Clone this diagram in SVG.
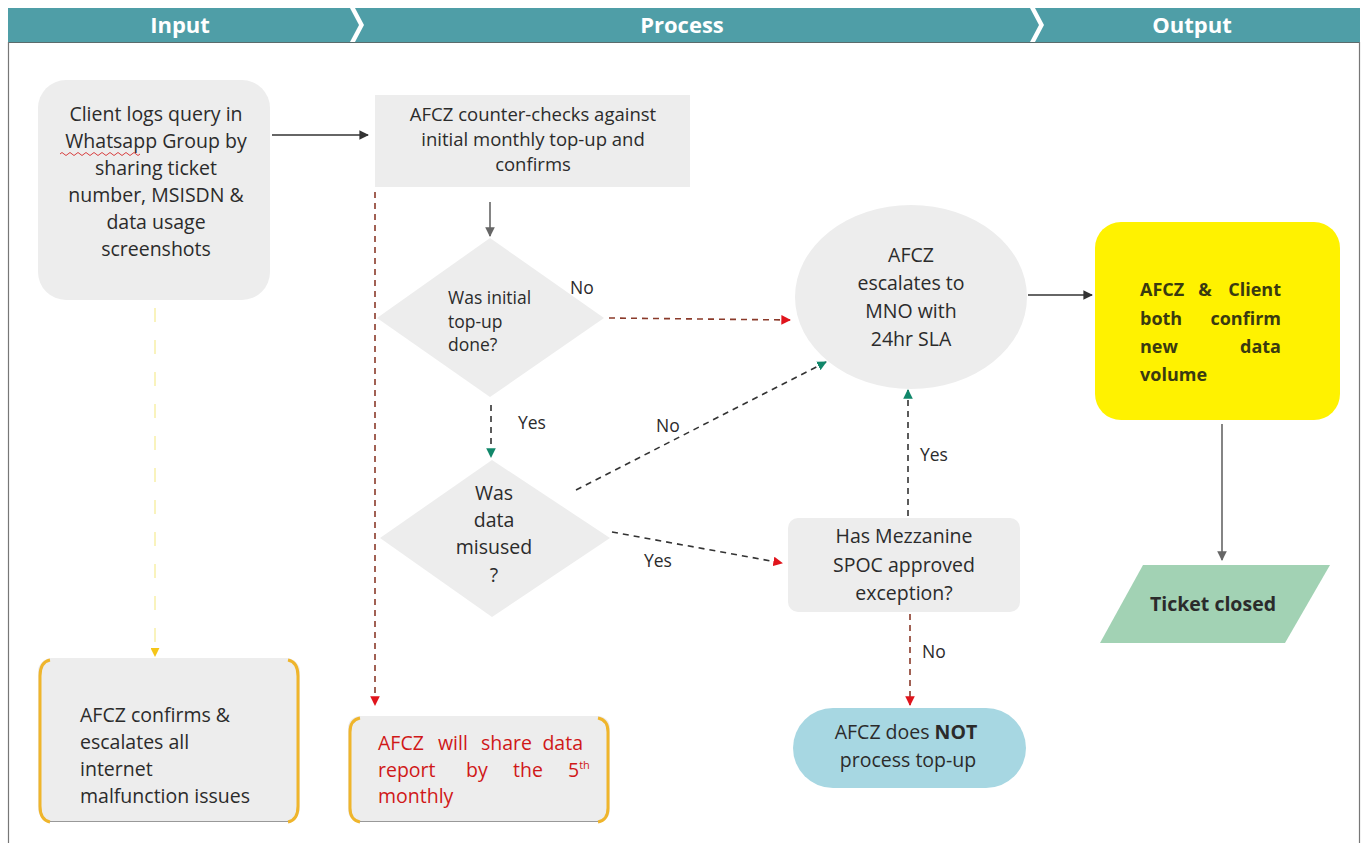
<svg xmlns="http://www.w3.org/2000/svg" width="1365" height="843" viewBox="0 0 1365 843">
<defs>
<style>
text{font-family:"Open Sans","Liberation Sans",sans-serif;font-size:19.5px;fill:#2b2b2b}
.hd{fill:#ffffff;font-weight:bold;font-size:22px;text-anchor:middle}
.c{text-anchor:middle}
.sm{font-size:17.5px}
.mid{font-size:18.5px}
.box{fill:#ededed}
.gold{fill:none;stroke:#efb52c;stroke-width:3}
.solid{fill:none;stroke:#333;stroke-width:1.6}
.gsolid{fill:none;stroke:#666;stroke-width:1.6}
.dash{fill:none;stroke:#333;stroke-width:1.6;stroke-dasharray:6 5}
.rdash{fill:none;stroke:#8a3a2a;stroke-width:1.6;stroke-dasharray:6 5}
.ydash{fill:none;stroke:#f7efa8;stroke-width:1.5;stroke-dasharray:14 18}
.bold{font-weight:bold}
.yt{font-weight:bold;fill:#3a3a10;font-size:18px}
.red{fill:#d01818}
</style>
<marker id="aBlack" viewBox="0 0 10 10" refX="9" refY="5" markerWidth="6" markerHeight="6" orient="auto"><path d="M0,0 L10,5 L0,10 z" fill="#333"/></marker>
<marker id="aGray" viewBox="0 0 10 10" refX="9" refY="5" markerWidth="6" markerHeight="6" orient="auto"><path d="M0,0 L10,5 L0,10 z" fill="#666"/></marker>
<marker id="aRed" viewBox="0 0 10 10" refX="9" refY="5" markerWidth="6" markerHeight="6" orient="auto"><path d="M0,0 L10,5 L0,10 z" fill="#e0141c"/></marker>
<marker id="aGreen" viewBox="0 0 10 10" refX="9" refY="5" markerWidth="6" markerHeight="6" orient="auto"><path d="M0,0 L10,5 L0,10 z" fill="#11876a"/></marker>
<marker id="aYellow" viewBox="0 0 10 10" refX="9" refY="5" markerWidth="6" markerHeight="6" orient="auto"><path d="M0,0 L10,5 L0,10 z" fill="#f5c518"/></marker>
</defs>
<rect width="1365" height="843" fill="#ffffff"/>

<g id="header">
<polygon points="8,8 350,8 359,25 350,42 8,42" fill="#4f9ea7"/>
<polygon points="355,8 1030,8 1039,25 1030,42 355,42 364,25" fill="#4f9ea7"/>
<polygon points="1035,8 1360,8 1360,42 1035,42 1044,25" fill="#4f9ea7"/>
<line x1="8" y1="42.5" x2="1360" y2="42.5" stroke="#5b6b6b" stroke-width="1"/>
<text class="hd" x="180" y="33">Input</text>
<text class="hd" x="682" y="33">Process</text>
<text class="hd" x="1192" y="33">Output</text>
</g>
<g id="frame">
<line x1="8.5" y1="42" x2="8.5" y2="843" stroke="#777" stroke-width="1.2"/>
<line x1="1359.5" y1="42" x2="1359.5" y2="843" stroke="#777" stroke-width="1.2"/>
</g>

<g id="connectors">
<line class="solid" x1="272" y1="135" x2="368" y2="135" marker-end="url(#aBlack)"/>
<line class="gsolid" x1="490" y1="202" x2="490" y2="236" marker-end="url(#aGray)"/>
<line class="rdash" x1="375" y1="192" x2="375" y2="705" marker-end="url(#aRed)"/>
<line class="ydash" x1="155" y1="308" x2="155" y2="656" marker-end="url(#aYellow)"/>
<line class="rdash" x1="609" y1="318" x2="790" y2="320" marker-end="url(#aRed)"/>
<line class="dash" x1="491" y1="405" x2="491" y2="457" marker-end="url(#aGreen)"/>
<line class="dash" x1="576" y1="490" x2="826" y2="362" marker-end="url(#aGreen)"/>
<line class="dash" x1="612" y1="532" x2="782" y2="563" marker-end="url(#aRed)"/>
<line class="dash" x1="908" y1="516" x2="908" y2="390" marker-end="url(#aGreen)"/>
<line class="rdash" x1="910" y1="614" x2="910" y2="705" marker-end="url(#aRed)"/>
<line class="solid" x1="1028" y1="295" x2="1092" y2="295" marker-end="url(#aBlack)"/>
<line class="gsolid" x1="1222" y1="424" x2="1222" y2="560" marker-end="url(#aGray)"/>
<text class="sm" x="570" y="294">No</text>
<text class="sm" x="518" y="429">Yes</text>
<text class="sm" x="656" y="432">No</text>
<text class="sm" x="644" y="567">Yes</text>
<text class="sm" x="920" y="461">Yes</text>
<text class="sm" x="922" y="658">No</text>
</g>

<g id="client-logs">
<rect class="box" x="38" y="80" width="232" height="220" rx="28"/>
<text class="c" x="156" y="121">Client logs query in</text>
<text class="c" x="156" y="148">Whatsapp Group by</text>
<text class="c" x="156" y="175">sharing ticket</text>
<text class="c" x="156" y="202">number, MSISDN &amp;</text>
<text class="c" x="156" y="229">data usage</text>
<text class="c" x="156" y="256">screenshots</text>
<path d="M60,154 q2,-3 4,0 t4,0 t4,0 t4,0 t4,0 t4,0 t4,0 t4,0 t4,0 t4,0 t4,0 t4,0 t4,0 t4,0 t4,0 t4,0 t4,0 t4,0 t4,0 t4,0" fill="none" stroke="#d84040" stroke-width="1"/>
</g>

<g id="counter-checks">
<rect class="box" x="375" y="95" width="315" height="92"/>
<text class="c mid" x="533" y="121">AFCZ counter-checks against</text>
<text class="c mid" x="533" y="146">initial monthly top-up and</text>
<text class="c mid" x="533" y="171">confirms</text>
</g>

<g id="decision-initial">
<polygon class="box" points="490,238 604,318 490,397 377,318"/>
<text class="sm" x="448" y="304">Was initial</text>
<text class="sm" x="448" y="328">top-up</text>
<text class="sm" x="448" y="351">done?</text>
</g>

<g id="decision-misused">
<polygon class="box" points="492,460 610,538 492,617 380,538"/>
<text class="c" x="494" y="500">Was</text>
<text class="c" x="494" y="527">data</text>
<text class="c" x="494" y="554">misused</text>
<text class="c" x="494" y="582">?</text>
</g>

<g id="escalates-mno">
<ellipse class="box" cx="911" cy="297" rx="116" ry="92"/>
<text class="c" x="911" y="262">AFCZ</text>
<text class="c" x="911" y="290">escalates to</text>
<text class="c" x="911" y="318">MNO with</text>
<text class="c" x="911" y="346">24hr SLA</text>
</g>

<g id="mezzanine">
<rect class="box" x="788" y="518" width="232" height="94" rx="10"/>
<text class="c" x="904" y="543">Has Mezzanine</text>
<text class="c" x="904" y="572">SPOC approved</text>
<text class="c" x="904" y="600">exception?</text>
</g>

<g id="not-process">
<rect x="793" y="708" width="233" height="80" rx="40" fill="#a7d7e2"/>
<text class="c" x="906" y="739">AFCZ does <tspan class="bold">NOT</tspan></text>
<text class="c" x="908" y="767">process top-up</text>
</g>

<g id="confirm-volume">
<rect x="1095" y="222" width="245" height="198" rx="26" fill="#fff200"/>
<text class="yt" x="1140" y="296">AFCZ</text>
<text class="yt c" x="1205" y="296">&amp;</text>
<text class="yt" x="1281" y="296" text-anchor="end">Client</text>
<text class="yt" x="1140" y="325">both</text>
<text class="yt" x="1281" y="325" text-anchor="end">confirm</text>
<text class="yt" x="1140" y="353">new</text>
<text class="yt" x="1281" y="353" text-anchor="end">data</text>
<text class="yt" x="1140" y="381">volume</text>
</g>

<g id="ticket-closed">
<polygon points="1143,565 1330,565 1285,643 1100,643" fill="#a2d2b4"/>
<text class="c bold" x="1213" y="611">Ticket closed</text>
</g>

<g id="confirms-escalates">
<rect class="box" x="38" y="658" width="262" height="164" rx="14"/>
<path class="gold" d="M50,660 Q40,662 40,676 L40,806 Q40,820 50,822"/>
<path class="gold" d="M288,660 Q298,662 298,676 L298,806 Q298,820 288,822"/>
<line x1="50" y1="821.5" x2="288" y2="821.5" stroke="#999" stroke-width="1"/>
<text x="80" y="722">AFCZ confirms &amp;</text>
<text x="80" y="749">escalates all</text>
<text x="80" y="776">internet</text>
<text x="80" y="803">malfunction issues</text>
</g>

<g id="share-report">
<rect class="box" x="348" y="716" width="262" height="106" rx="12"/>
<path class="gold" d="M360,718 Q350,720 350,732 L350,808 Q350,820 360,822"/>
<path class="gold" d="M598,718 Q608,720 608,732 L608,808 Q608,820 598,822"/>
<line x1="360" y1="821.5" x2="598" y2="821.5" stroke="#999" stroke-width="1"/>
<text class="red" x="378" y="750">AFCZ</text>
<text class="red" x="438" y="750">will</text>
<text class="red" x="481" y="750">share</text>
<text class="red" x="583" y="750" text-anchor="end">data</text>
<text class="red" x="378" y="777">report</text>
<text class="red" x="466" y="777">by</text>
<text class="red" x="513" y="777">the</text>
<text class="red" x="568" y="777">5<tspan font-size="11" dy="-8">th</tspan></text>
<text class="red" x="378" y="803">monthly</text>
</g>
</svg>
